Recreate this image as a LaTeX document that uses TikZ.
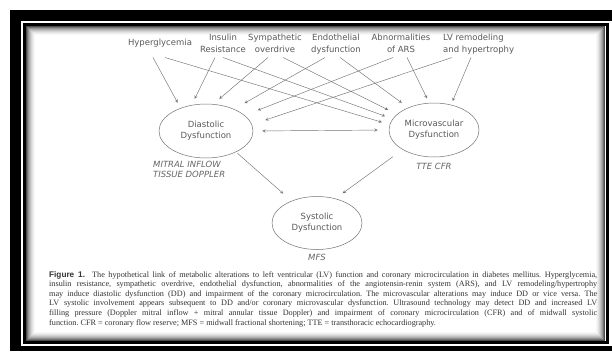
\documentclass[tikz,border=0pt]{standalone}
\usepackage{fontspec}
\setmainfont{Liberation Serif}
\setsansfont{Liberation Sans}
\newfontfamily\diafont{DejaVu Sans}
\usetikzlibrary{shapes.geometric,positioning}

\begin{document}
\begin{tikzpicture}[x=1pt,y=-1pt,
	lbl/.style={font=\diafont\fontsize{8.5}{12}\selectfont,text=black!65,inner sep=0pt,align=center},
	dys/.style={ellipse,draw=black!55,line width=0.5pt,minimum width=90pt,minimum height=54pt,inner sep=0pt,align=center,font=\diafont\fontsize{8.5}{11}\selectfont,text=black!65},
	meth/.style={font=\diafont\itshape\fontsize{8.5}{10}\selectfont,text=black!60,inner sep=0pt,align=left},
	arr/.style={->,>=stealth,draw=black!55,line width=0.45pt}]
	\def\top{33.5}
	\useasboundingbox (0,0) rectangle (612,351);
	\fill[white] (0,0) rectangle (612,351);

	% screenshot frame
	\fill[black] (10,10) rectangle (612,21);
	\fill[black] (10,10) rectangle (21,351);
	\fill[black] (10,346) rectangle (612,351);
	\draw[line width=3pt] (24.5,24.5) rectangle (607,342.5);
	\foreach \k/\c in {0/70,1/55,2/42,3/32,4/24,5/17,6/11,7/6,8/3}
		\draw[black!\c,line width=1pt] (26.5+\k,26.5+\k) rectangle (604.5-\k,340.5-\k);

	% causes
	\node[lbl] (hyp) at (160,43) {Hyperglycemia};
	\node[lbl,anchor=north] (ins) at (223,\top) {Insulin\\Resistance};
	\node[lbl,anchor=north] (sym) at (275,\top) {Sympathetic\\overdrive};
	\node[lbl,anchor=north] (endo) at (336,\top) {Endothelial\\dysfunction};
	\node[lbl,anchor=north] (abn) at (401,\top) {Abnormalities\\of ARS};
	\node[lbl,anchor=north west,align=left] (lv) at (443,\top) {LV remodeling\\and hypertrophy};

	% dysfunctions
	\node[dys,minimum width=94pt] (dia) at (206,131) {Diastolic\\Dysfunction};
	\node[dys] (mic) at (434,130) {Microvascular\\Dysfunction};
	\node[dys,minimum height=53pt] (sys) at (317,223) {Systolic\\Dysfunction};

	\node[meth,anchor=north west] (mitral) at (153,161) {MITRAL INFLOW\\TISSUE DOPPLER};
	\node[meth,below=6pt of mic] (tte) {TTE CFR};
	\node[meth,below=4pt of sys] (mfs) {MFS};

	% arrows to diastolic
	\draw[arr,shorten >=6pt] ([shift={(-7pt,-14.5pt)}]hyp.center) -- (dia.138);
	\draw[arr,shorten >=7pt] ([shift={(-8pt,-24pt)}]ins.north) -- (dia.119);
	\draw[arr,shorten >=8pt] ([shift={(-7pt,-24pt)}]sym.north) -- (dia.75);
	\draw[arr,shorten >=12pt] ([shift={(-11pt,-24pt)}]endo.north) -- (dia.38);
	\draw[arr,shorten >=14pt] ([shift={(-8pt,-24pt)}]abn.north) -- (dia.22);
	\draw[arr,shorten >=14pt] ([shift={(9pt,-24pt)}]lv.north west) -- (dia.8);

	% arrows to microvascular
	\draw[arr,shorten >=8pt] ([shift={(5pt,-14.5pt)}]hyp.center) -- (mic.173);
	\draw[arr,shorten >=8pt] ([shift={(0pt,-24pt)}]ins.north) -- (mic.165);
	\draw[arr,shorten >=10pt] ([shift={(8pt,-24pt)}]sym.north) -- (mic.157);
	\draw[arr,shorten >=8pt] ([shift={(4pt,-24pt)}]endo.north) -- (mic.139);
	\draw[arr,shorten >=5pt] ([shift={(6pt,-24pt)}]abn.north) -- (mic.100);
	\draw[arr,shorten >=4pt] ([shift={(28pt,-24pt)}]lv.north west) -- (mic.56);

	\draw[arr,<->,shorten <=9pt,shorten >=11pt] (dia.east) -- (mic.west);

	% towards systolic
	\draw[arr,shorten <=2pt,shorten >=11pt] (dia.-35) -- (sys.139);
	\draw[arr,shorten <=12pt,shorten >=9pt] (mic.212) -- (sys.53);

	% caption
	\node[anchor=north west,inner sep=0pt,text width=548pt,align=justify,text=black!80,
		font=\fontsize{8.2}{9.6}\selectfont] (capt) at (49,271) {\hyphenpenalty=10000\frenchspacing
		{\sffamily\bfseries Figure 1.}\ \ The hypothetical link of metabolic alterations to left ventricular (LV) function and coronary microcirculation in diabetes mellitus. Hyperglycemia,\linebreak
		insulin resistance, sympathetic overdrive, endothelial dysfunction, abnormalities of the angiotensin-renin system (ARS), and LV remodeling/hypertrophy\linebreak
		may induce diastolic dysfunction (DD) and impairment of the coronary microcirculation. The microvascular alterations may induce DD or vice versa. The\linebreak
		LV systolic involvement appears subsequent to DD and/or coronary microvascular dysfunction. Ultrasound technology may detect DD and increased LV\linebreak
		filling pressure (Doppler mitral inflow + mitral annular tissue Doppler) and impairment of coronary microcirculation (CFR) and of midwall systolic\linebreak
		function. CFR = coronary flow reserve; MFS = midwall fractional shortening; TTE = transthoracic echocardiography.};
\end{tikzpicture}
\end{document}
